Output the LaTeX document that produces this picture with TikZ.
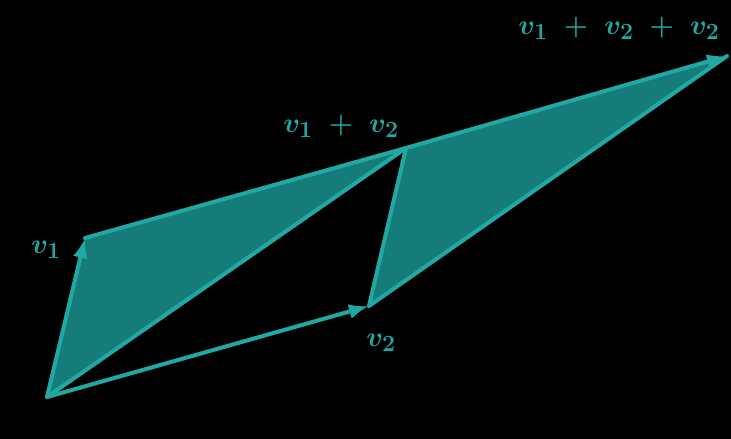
\documentclass[tikz,border=0pt]{standalone}
\usepackage{amsmath,bm}
\usetikzlibrary{arrows.meta}
\definecolor{tealfill}{HTML}{167C79}
\definecolor{tealedge}{HTML}{20A8A3}
\begin{document}
\begin{tikzpicture}[x=1pt,y=-1pt,
  edge/.style={draw=tealedge,line width=4pt,line join=round,line cap=round},
  vec/.style={edge,-{Latex[length=20pt,width=15pt]}},
  lbl/.style={text=tealedge,font=\Huge\boldmath,scale=1.12}]
\fill[black] (0,0) rectangle (731,439);
\useasboundingbox (0,0) rectangle (731,439);
\coordinate (O) at (47,397);
\coordinate (A) at (85,238);
\coordinate (B) at (406,148);
\coordinate (C) at (369,306);
\coordinate (D) at (727,56);
\fill[tealfill] (O) -- (A) -- (B) -- cycle;
\fill[tealfill] (C) -- (B) -- (D) -- cycle;
\draw[edge] (A) -- (B) -- (O);
\draw[edge] (C) -- (B);
\draw[edge] (C) -- (D);
\draw[vec] (O) -- (A);
\draw[vec] (O) -- (C);
\draw[vec] (B) -- (D);
\node[lbl] (l1) at (46,250) {$v_1$};
\node[lbl] (l2) at (381,343) {$v_2$};
\node[lbl] (l3) at (341,126) {$v_1 \mathbin{\;+\;} v_2$};
\node[lbl] (l4) at (619,28) {$v_1 \mathbin{\;+\;} v_2 \mathbin{\;+\;} v_2$};
\end{tikzpicture}
\end{document}
